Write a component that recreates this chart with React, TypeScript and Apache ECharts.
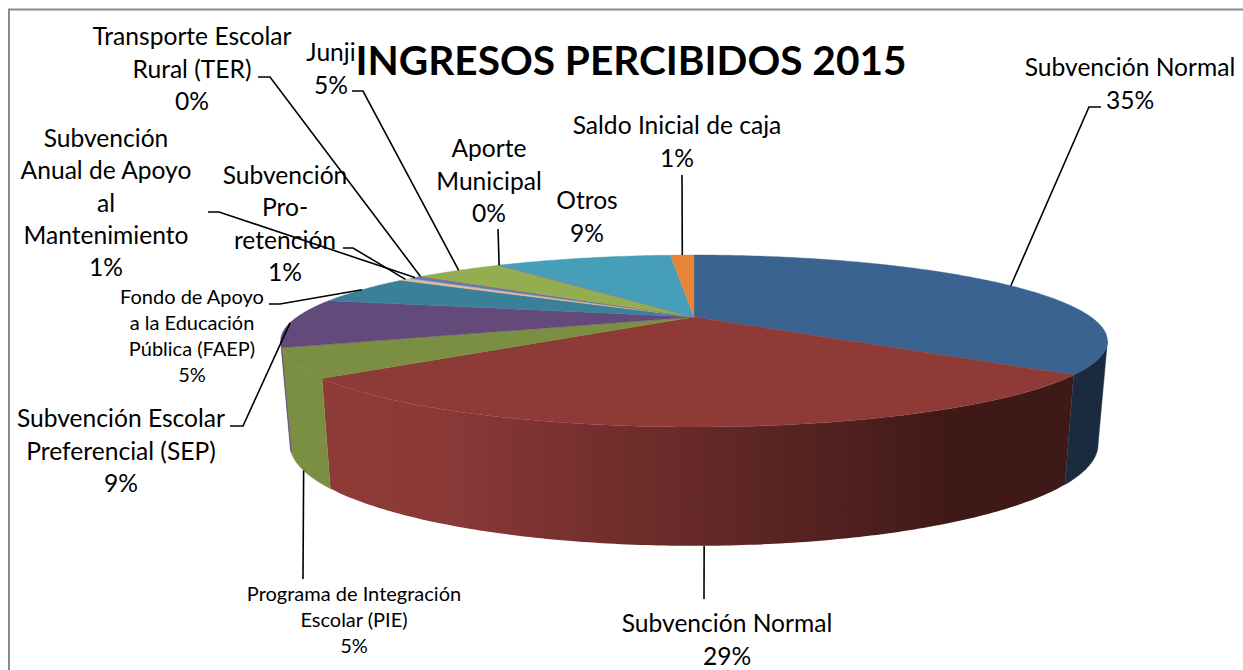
import React, { useEffect, useRef } from "react";
import * as echarts from "echarts";

const titleText = "INGRESOS PERCIBIDOS 2015";
const sliceNames = [
  "Subvención Normal",
  "Subvención Normal",
  "Programa de Integración\nEscolar (PIE)",
  "Subvención Escolar\nPreferencial (SEP)",
  "Fondo de Apoyo\na la Educación\nPública (FAEP)",
  "Subvención\nPro-\nretención",
  "Subvención\nAnual de Apoyo\nal\nMantenimiento",
  "Transporte Escolar\nRural (TER)",
  "Junji",
  "Aporte\nMunicipal",
  "Otros",
  "Saldo Inicial de caja",
];
const sliceValues = [35.4, 28.6, 5.3, 9.2, 5.4, 0.6, 0.6, 0.1, 4.5, 0.1, 9.0, 1.2];

const topColors = ["#3A6390", "#8E3B38", "#7B8F42", "#644A7B", "#3A8099", "#E8B896", "#4F81BD", "#C0504D", "#92AE50", "#7B5F9E", "#469EB8", "#E6853A"];
const wallColors = ["#1A2B40", "#8E3B38", "#7B8F42", "#644A7B"];

const labelCentres = [
  [1130, 83], [727, 639], [354, 619], [121, 450], [192, 335], [285, 223],
  [106, 202], [192, 68], [331, 68], [489, 180], [587, 216], [677, 141],
];
const leaderElbows: number[][][] = [
  [[1101, 107], [1089, 107]],
  [[704, 599]],
  [[303, 579]],
  [[230, 426], [243, 426]],
  [[269, 304], [280, 304]],
  [[343, 248], [353, 248]],
  [[208, 212], [219, 212]],
  [[258, 77], [270, 77]],
  [[352, 91], [363, 91]],
  [[498, 229]],
  [],
  [[682, 175]],
];
const smallLabels = [2, 4];
const wallAnchored = [1, 2];

const CX = 694, APEX_Y = 317, P = 0.279;
const TOP_R = 397, TOP_K = 79.3, BOT_R = 388, BOT_K = 93.6, BOT_Y = 416;
const total = sliceValues.reduce((a, b) => a + b, 0);

function rim(theta: number, bottom: boolean): number[] {
  const u = Math.sin(theta), v = Math.cos(theta), s = 1 / (1 + P * v);
  return bottom
    ? [CX + BOT_R * u * s, BOT_Y - BOT_K * v * s]
    : [CX + TOP_R * u * s, APEX_Y - TOP_K * v * s];
}
function arc(a: number, b: number, bottom: boolean): number[][] {
  const n = Math.max(2, Math.ceil(Math.abs(b - a) / 0.012));
  const out: number[][] = [];
  for (let i = 0; i <= n; i++) out.push(rim(a + ((b - a) * i) / n, bottom));
  return out;
}
const bounds: number[][] = [];
{
  let acc = 0;
  for (const v of sliceValues) {
    bounds.push([(acc / total) * 2 * Math.PI, ((acc + v) / total) * 2 * Math.PI]);
    acc += v;
  }
}
const WALL_FROM = Math.acos(-P);
const WALL_TO = 2 * Math.PI - WALL_FROM;

function wallFill(i: number): any {
  if (i === 1) {
    return new echarts.graphic.LinearGradient(0, 0, 1, 0, [
      { offset: 0, color: "#8E3B38" },
      { offset: 0.16, color: "#8A3937" },
      { offset: 0.7, color: "#4F201E" },
      { offset: 0.84, color: "#3F1917" },
      { offset: 1, color: "#3F1917" },
    ]);
  }
  return wallColors[i] || topColors[i];
}

const FONT = "Lato, 'Noto Sans', sans-serif";

export default function App() {
  const ref = useRef<HTMLDivElement>(null);
  useEffect(() => {
    const chart = echarts.init(ref.current!, null, { renderer: "svg" });
    const indexData = sliceValues.map((v, i) => [i, v]);
    chart.setOption({
      animation: false,
      backgroundColor: "#fff",
      title: {
        text: titleText,
        left: 626,
        top: 34,
        textAlign: "center",
        textStyle: { fontFamily: FONT, fontSize: 40.6, fontWeight: "bold", color: "#000" },
        z: 20,
      },
      graphic: [
        { type: "rect", z: 0, shape: { x: 9, y: 9.5, width: 1300, height: 700 }, style: { fill: "none", stroke: "#8A8A8A", lineWidth: 2 } },
      ],
      series: [
        {
          type: "custom",
          name: "walls",
          coordinateSystem: "none",
          z: 2,
          data: indexData,
          renderItem: (params: any) => {
            const i = params.dataIndex;
            const a = Math.max(bounds[i][0], WALL_FROM);
            const b = Math.min(bounds[i][1], WALL_TO);
            if (b <= a) return null;
            const pts = [...arc(a, b, false), ...arc(b, a, true)];
            const fill = wallFill(i);
            return { type: "polygon", shape: { points: pts }, style: { fill, stroke: i === 1 ? undefined : fill, lineWidth: 0.5 } };
          },
        },
        {
          type: "custom",
          name: "tops",
          coordinateSystem: "none",
          z: 3,
          data: indexData,
          renderItem: (params: any) => {
            const i = params.dataIndex;
            const pts = [[CX, APEX_Y], ...arc(bounds[i][0], bounds[i][1], false)];
            return { type: "polygon", shape: { points: pts }, style: { fill: topColors[i], stroke: topColors[i], lineWidth: 0.4 } };
          },
        },
        {
          type: "custom",
          name: "labels",
          coordinateSystem: "none",
          z: 5,
          data: indexData,
          renderItem: (params: any) => {
            const i = params.dataIndex;
            const mid = (bounds[i][0] + bounds[i][1]) / 2;
            const anchor = rim(mid, wallAnchored.includes(i));
            const small = smallLabels.includes(i);
            const pct = Math.round((sliceValues[i] / total) * 100);
            const children: any[] = [];
            if (leaderElbows[i].length) {
              children.push({
                type: "polyline",
                shape: { points: [...leaderElbows[i], anchor] },
                style: { fill: "none", stroke: "#000", lineWidth: 1.6 },
              });
            }
            children.push({
              type: "text",
              style: {
                x: labelCentres[i][0],
                y: labelCentres[i][1],
                text: `${sliceNames[i]}\n${pct}%`,
                align: "center",
                verticalAlign: "middle",
                fontFamily: FONT,
                fontSize: small ? 20 : 24.6,
                lineHeight: small ? 26 : 32.3,
                fill: "#000",
              },
            });
            return { type: "group", children };
          },
        },
      ],
    });
    return () => chart.dispose();
  }, []);
  return <div ref={ref} style={{ position: "fixed", left: 0, top: 0, width: 1243, height: 670 }} />;
}
